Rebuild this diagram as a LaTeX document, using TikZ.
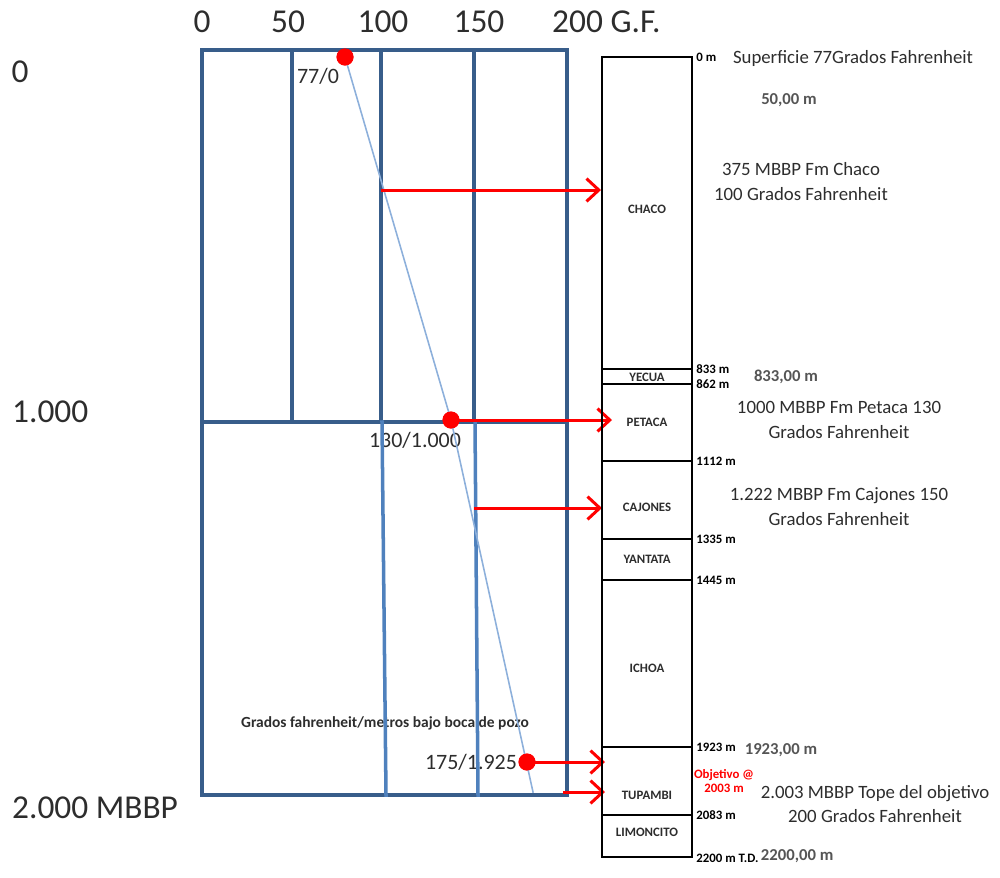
\documentclass[tikz,border=0pt]{standalone}
\usepackage{fontspec}
\setmainfont{Carlito}
\usepackage{tikz}
\usetikzlibrary{arrows.meta}
\definecolor{gridblue}{RGB}{56,93,138}
\definecolor{midblue}{RGB}{79,129,189}
\definecolor{lineblue}{RGB}{141,176,219}
\definecolor{txtgray}{RGB}{45,45,45}
\definecolor{lblgray}{RGB}{85,85,85}

\begin{document}
\begin{tikzpicture}[x=0.02cm,y=-0.02cm,line cap=rect,
		>={Straight Barb[length=7pt,width=13pt]},
		gridline/.style={line width=2.3pt,draw=gridblue},
		lowline/.style={line width=2pt,draw=midblue},
		colline/.style={line width=1.4pt,draw=black},
		redarrow/.style={->,line width=1.7pt,red,line cap=butt},
		reddot/.style={circle,fill=red,inner sep=0pt,minimum size=0.34cm},
		axis/.style={font=\fontsize{19}{23}\selectfont,text=txtgray},
		note/.style={font=\fontsize{10.7}{14.2}\selectfont,text=txtgray,align=center},
		layer/.style={font=\bfseries\fontsize{7.3}{8}\selectfont,text=txtgray},
		depth/.style={font=\bfseries\fontsize{7.3}{8}\selectfont,anchor=west,inner sep=0pt},
		meters/.style={font=\bfseries\fontsize{9.5}{11}\selectfont,text=lblgray},
		point/.style={font=\fontsize{12.5}{15}\selectfont,text=txtgray}]
		\useasboundingbox (0,0) rectangle (1000,877);
		
		% escala de temperatura
		\node[axis] (t0) at (202,22) {0};
		\node[axis] (t50) at (288,22) {50};
		\node[axis] (t100) at (383,22) {100};
		\node[axis] (t150) at (479,22) {150};
		\node[axis,anchor=west] (t200) at (546,22) {200 G.F.};
		
		% profundidad
		\node[axis] (p0) at (20,72) {0};
		\node[axis,anchor=west] (p1000) at (6,412) {1.000};
		\node[axis,anchor=west] (p2000) at (6,808) {2.000 MBBP};
		
		\node[point] (l0) at (318,76) {77/0};
		\node[point] (l1) at (415,440) {130/1.000};
		\node[point] (l2) at (471,762) {175/1.925};
		\node[font=\bfseries\fontsize{8.8}{10}\selectfont,text=txtgray] (cap) at (385,723) {Grados fahrenheit/metros bajo boca de pozo};
		
		% grilla
		\draw[gridline] (202,50) rectangle (567,795);
		\draw[gridline] (202,422) -- (567,422);
		\foreach \x in {292,381,474}
		{
			\draw[gridline] (\x,50) -- (\x,422);
		}
		\draw[lowline] (382,422) -- (386,795);
		\draw[lowline] (475,422) -- (478,795);
		
		% gradiente
		\node[reddot] (d0) at (345,57) {};
		\node[reddot] (d1) at (451,420) {};
		\node[reddot] (d2) at (527,762) {};
		\coordinate (tEnd) at (533,792);
		\draw[lineblue,line width=0.9pt] (d0.center) -- (d1.center) -- (tEnd);
		\node[reddot] at (d0) {};
		\node[reddot] at (d1) {};
		\node[reddot] at (d2) {};
		
		\coordinate (c100) at (381,190);
		\coordinate (c150) at (474,508);
		\coordinate (cBot) at (563,792);
		\coordinate (aChaco) at (601,190);
		\coordinate (aPetaca) at (612,420);
		\coordinate (aCajones) at (602,508);
		\coordinate (aTop) at (605,762);
		\coordinate (aObj) at (605,792);
		\draw[redarrow] (c100) -- (aChaco);
		\draw[redarrow] (d1.center) -- (aPetaca);
		\draw[redarrow] (c150) -- (aCajones);
		\draw[redarrow] (d2.center) -- (aTop);
		\draw[redarrow] (cBot) -- (aObj);
		
		% columna
		\draw[colline] (602,57) rectangle (692,857);
		\node[depth] (m0) at (696,57) {0 m};
		\foreach \y/\lab in {369/833 m,384/862 m,461/1112 m,539/1335 m,580/1445 m,747/1923 m,815/2083 m}
		{
			\draw[colline] (602,\y) -- (692,\y);
			\node[depth] (m\y) at (696,\y) {\lab};
		}
		\node[depth] (mTD) at (696,858) {2200 m T.D.};
		\foreach \y/\name in {209/CHACO,377/YECUA,422/PETACA,507/CAJONES,559/YANTATA,668/ICHOA,795/TUPAMBI,832/LIMONCITO}
		{
			\node[layer] (f\y) at (647,\y) {\name};
		}
		
		% notas
		\node[note] (n0) at (853,58) {Superficie 77Grados Fahrenheit};
		\node[meters] (n50) at (789,100) {50,00 m};
		\node[note] (nChaco) at (801,182) {375 MBBP Fm Chaco\\100 Grados Fahrenheit};
		\node[meters] (n833) at (786,377) {833,00 m};
		\node[note] (nPetaca) at (839,420) {1000 MBBP Fm Petaca 130\\Grados Fahrenheit};
		\node[note] (nCajones) at (839,507) {1.222 MBBP Fm Cajones 150\\Grados Fahrenheit};
		\node[meters] (n1923) at (781,750) {1923,00 m};
		\node[font=\bfseries\fontsize{7.3}{8.5}\selectfont,text=red,align=center] (nObj) at (724,781) {Objetivo @\\2003 m};
		\node[note] (nTope) at (875,804) {2.003 MBBP Tope del objetivo\\200 Grados Fahrenheit};
		\node[meters,anchor=west,inner sep=1pt] (n2200) at ([yshift=1pt]mTD.east) {2200,00 m};
\end{tikzpicture}
\end{document}
